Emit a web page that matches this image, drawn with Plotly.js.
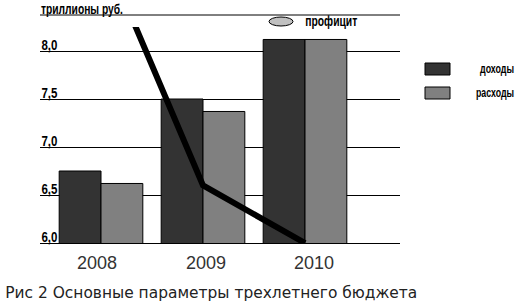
<!DOCTYPE html>
<html>
<head>
<meta charset="utf-8">
<script src="https://cdn.plot.ly/plotly-3.0.1.min.js"></script>
<style>html,body{margin:0;padding:0;background:#fff;}#chart{width:527px;height:305px;}</style>
</head>
<body>
<div id="chart"></div>
<script>
// Data
var years = ["2008", "2009", "2010"];
var yearPos = [0, 1, 2];
var revenues = [6.75, 7.5, 8.12];      // доходы
var expenditures = [6.62, 7.37, 8.12]; // расходы
var surplus = [9.1, 6.6, 6.0];         // профицит (line, clipped at top)
var yTickVals = [6.0, 6.5, 7.0, 7.5, 8.0];
var yTickText = ["6,0", "6,5", "7,0", "7,5", "8,0"];
var unitLabel = "триллионы руб.";
var seriesNames = ["доходы", "расходы", "профицит"];
var caption = "Рис 2 Основные параметры трехлетнего бюджета";

var narrow = "Liberation Sans, Arial, sans-serif";

var traces = [
  {type: "bar", x: yearPos, y: revenues, width: 0.41, offset: -0.41,
   marker: {color: "#333333", line: {color: "#000", width: 1}}, name: seriesNames[0], showlegend: false, hoverinfo: "none"},
  {type: "bar", x: yearPos, y: expenditures, width: 0.41, offset: 0,
   marker: {color: "#808080", line: {color: "#000", width: 1}}, name: seriesNames[1], showlegend: false, hoverinfo: "none"},
  {type: "scatter", mode: "lines", x: yearPos, y: surplus,
   line: {color: "#000", width: 6}, name: seriesNames[2], showlegend: false, hoverinfo: "none"}
];

function px(x) { return (x - 40) / 360; }
function py(y) { return (243 - y) / 216; }

var annotations = [];
var squeeze = []; // [annotation index, target width px]
yTickVals.forEach(function (v, i) {
  squeeze.push([annotations.length, 16]);
  annotations.push({xref: "paper", yref: "y", x: px(49), y: v, xanchor: "center", yanchor: "bottom",
    text: "<b>" + yTickText[i] + "</b>", showarrow: false, font: {family: narrow, size: 15, color: "#000"}, yshift: -4});
});
var yearShift = [-4, 3, 9];
years.forEach(function (t, i) {
  annotations.push({xref: "x", yref: "paper", x: yearPos[i], y: 0, xanchor: "center", yanchor: "top",
    text: t, showarrow: false, font: {family: "Liberation Sans, Arial, sans-serif", size: 18, color: "#333"},
    yshift: -8, xshift: yearShift[i]});
});
squeeze.push([annotations.length, 82]);
annotations.push({xref: "paper", yref: "paper", x: px(82), y: py(15), xanchor: "center", yanchor: "bottom",
  text: "<b>" + unitLabel + "</b>", showarrow: false, font: {family: narrow, size: 15, color: "#000"}, yshift: -4});
squeeze.push([annotations.length, 52]);
annotations.push({xref: "paper", yref: "paper", x: px(331), y: py(21), xanchor: "center", yanchor: "middle",
  text: "<b>" + seriesNames[2] + "</b>", showarrow: false, font: {family: narrow, size: 14, color: "#000"}});
squeeze.push([annotations.length, 34]);
annotations.push({xref: "paper", yref: "paper", x: px(497), y: py(69), xanchor: "center", yanchor: "middle",
  text: "<b>" + seriesNames[0] + "</b>", showarrow: false, font: {family: narrow, size: 12, color: "#000"}});
squeeze.push([annotations.length, 38]);
annotations.push({xref: "paper", yref: "paper", x: px(495), y: py(93), xanchor: "center", yanchor: "middle",
  text: "<b>" + seriesNames[1] + "</b>", showarrow: false, font: {family: narrow, size: 12, color: "#000"}});
squeeze.push([annotations.length, 412]);
annotations.push({xref: "paper", yref: "paper", x: px(211), y: py(293), xanchor: "center", yanchor: "middle",
  text: caption, showarrow: false,
  font: {family: "DejaVu Sans, sans-serif", size: 15, color: "#222"}});

var shapes = [
  {type: "line", xref: "paper", yref: "paper", x0: 0, x1: 1, y0: py(15), y1: py(15), line: {color: "#000", width: 1}},
  {type: "circle", xref: "paper", yref: "paper", x0: px(269), x1: px(293), y0: py(26), y1: py(17),
   fillcolor: "#c0c0c0", line: {color: "#000", width: 1}},
  {type: "rect", xref: "paper", yref: "paper", x0: px(425), x1: px(450), y0: py(75), y1: py(63),
   fillcolor: "#333333", line: {color: "#000", width: 1}},
  {type: "rect", xref: "paper", yref: "paper", x0: px(425), x1: px(450), y0: py(99), y1: py(87),
   fillcolor: "#808080", line: {color: "#000", width: 1}}
];

var layout = {
  width: 527, height: 305,
  margin: {l: 40, r: 127, t: 27, b: 62, pad: 0},
  paper_bgcolor: "#fff", plot_bgcolor: "#fff",
  showlegend: false,
  xaxis: {range: [-(61 / 102), 2 + 95 / 102], showgrid: false, zeroline: false, showticklabels: false,
          showline: true, linecolor: "#000", linewidth: 1, ticks: "", fixedrange: true},
  yaxis: {range: [6, 8.25], tickvals: yTickVals, showticklabels: false, showgrid: true, gridcolor: "#000",
          gridwidth: 1, zeroline: false, ticks: "", fixedrange: true},
  annotations: annotations,
  shapes: shapes
};

function applySqueeze() {
  squeeze.forEach(function (s) {
    var g = document.querySelector('#chart .annotation[data-index="' + s[0] + '"]');
    if (!g) return;
    var t = g.querySelector('text.annotation-text');
    if (!t) return;
    t.setAttribute('textLength', s[1]);
    t.setAttribute('lengthAdjust', 'spacingAndGlyphs');
  });
}

Plotly.newPlot("chart", traces, layout, {displayModeBar: false, staticPlot: true}).then(applySqueeze);
</script>
</body>
</html>
